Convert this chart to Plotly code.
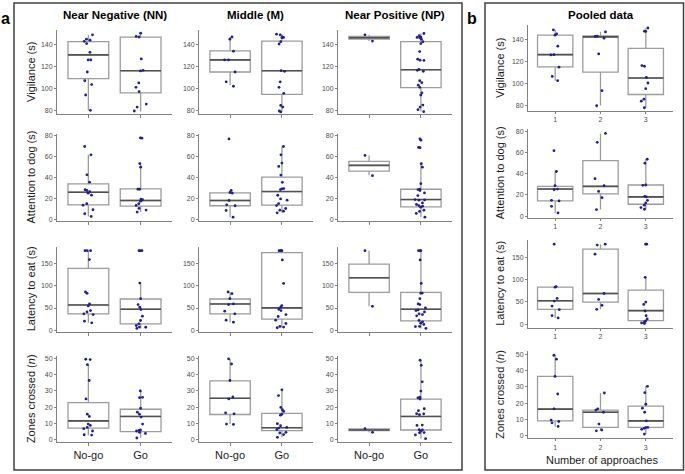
import plotly.graph_objects as go

W, H = 685, 474

condition_titles = ["Near Negative (NN)", "Middle (M)", "Near Positive (NP)", "Pooled data"]
go_labels = ["No-go", "Go"]
approach_labels = ["1", "2", "3"]
metric_titles = ["Vigilance (s)", "Attention to dog (s)", "Latency to eat (s)", "Zones crossed (<i>n</i>)"]

# vigilance (s) - individual dogs
vig_nn_nogo = [149, 143, 145, 144, 141, 133, 126, 126, 115, 107, 103.5, 94, 80]
vig_nn_go = [150.5, 147.5, 147, 127, 116.5, 116, 105, 101, 97, 85.7, 83, 79.4]
vig_m_nogo = [147, 145, 134, 126, 126, 115, 106, 102]
vig_m_go = [149.6, 149, 147, 146.6, 146.4, 142.7, 140.6, 115.6, 116.2, 106, 101, 95.5, 84.5, 83, 79.4, 78.5]
vig_np_nogo = [149, 143.3]
vig_np_go = [150.2, 148.2, 146.9, 146.6, 146.4, 145, 142.7, 141, 133.7, 126.7, 125.8, 125.6, 117.4,
             116.5, 115.6, 107, 105.3, 103, 101, 96, 93.9, 84.8, 83, 80.6, 78.8]
vig_pool_1 = [148.4, 144.8, 143.6, 133.7, 126, 125.7, 114.6, 106.3, 102.4]
vig_pool_2 = [146.6, 142.7, 142.5, 140.9, 126.6, 93.4, 79.7]
vig_pool_3 = [150.1, 147.2, 147, 116.1, 115.5, 105.4, 100.3, 95.2, 85.7, 83.9, 77.9]

# attention to dog (s)
att_nn_nogo = [69.6, 61.7, 42.7, 35.7, 27.8, 28.5, 26.6, 25.3, 23.4, 15.2, 13.9, 9.5, 5.7, 3.2]
att_nn_go = [77.8, 77.5, 53.4, 50, 29.1, 29.0, 19.6, 19, 17.7, 15.2, 13.6, 10.8, 9.2, 7.3]
att_m_nogo = [76.8, 27.8, 25.3, 25.9, 18.3, 14.2, 13.3, 8.9, 2.5]
att_m_go = [69.6, 61.7, 53.9, 50.7, 42.5, 35.6, 29.6, 29.4, 28.7, 23.3, 19.8, 18.6, 13.5, 15.4,
            10.7, 9.1, 8.2, 6.6]
att_np_nogo = [61.1, 41.9]
att_np_go = [76.9, 75.6, 68.7, 68.5, 53.2, 50, 34.3, 28.7, 27.7, 29, 25.5, 23, 19.2, 18.9, 18.6,
             16, 14.5, 13.5, 12.9, 12, 9.1, 7.9, 6, 2.5]
att_pool_1 = [61.6, 42, 28.6, 25.5, 24.9, 14.9, 14.3, 9.3, 3.1]
att_pool_2 = [77.8, 69.4, 35.2, 28.6, 23.3, 17.4, 6.2]
att_pool_3 = [53.5, 49.8, 29.3, 29, 18.7, 18.1, 14.9, 12.5, 10.3, 8.1, 6.5]

# latency to eat (s)
lat_nn_nogo = [180, 180, 180, 159.8, 83.3, 86.3, 59.3, 54.8, 44.3, 41.3, 36.8, 35.3, 20.3, 16.5]
lat_nn_go = [180, 180, 180, 106.5, 71.3, 57.8, 51.8, 46.5, 31.5, 21.8, 14.3, 10.5, 6.8, 6.5, 3.8]
lat_m_nogo = [86.3, 82.5, 71.3, 59.3, 57.8, 42.8, 36.8, 22.5, 18]
lat_m_go = [180, 180, 180, 180, 159, 105.8, 55.5, 51.8, 47.3, 44.3, 35.3, 30.8, 22.5, 15, 8.3, 6.8, 5.3]
lat_np_nogo = [180, 54]
lat_np_go = [180, 180, 180, 159, 105.8, 84, 83.5, 71.3, 57.8, 59.3, 44.3, 50.3, 45.8, 41.3, 36.8,
             35.3, 32.3, 21.8, 18.8, 15.8, 12.8, 8.3, 8.0, 3.8]
lat_pool_1 = [180, 83.2, 84.7, 58, 52, 40.9, 32.7, 19.3, 14.1]
lat_pool_2 = [180, 178, 157.5, 69.1, 55.7, 42.4, 33.4]
lat_pool_3 = [180, 180, 105.5, 49.8, 44.6, 29.7, 19.3, 11.9, 7.4, 5.2, 3, 1.5]

# zones crossed (n)
zon_nn_nogo = [49.4, 49.2, 46.1, 36.4, 25.1, 14.4, 15.8, 9.7, 8.9, 7.7, 6.9, 5.5, 3.2, 3.0]
zon_nn_go = [30, 26.1, 25.9, 19.4, 17, 15.8, 14, 9.7, 6.1, 5.9, 5.5, 4.7, 4, 1.2]
zon_m_nogo = [49.6, 46.5, 36.4, 26.3, 25.1, 16, 16.6, 9.7, 9.5]
zon_m_go = [30.7, 27.2, 19.9, 17.5, 18.5, 15.7, 15.2, 10, 8.7, 7.7, 7.3, 6.3, 4.7, 4.3, 3.3, 1.6]
zon_np_nogo = [6.9, 4.7]
zon_np_go = [48.8, 45.7, 35.6, 29.9, 26.2, 25, 25.8, 19.1, 17.9, 16.1, 15.5, 16.0, 6.3, 9.1, 8.9,
             5.3, 4.5, 4.4, 6.1, 3.1, 0.8]
zon_pool_1 = [49.4, 47, 36.4, 25.6, 16.5, 9.6, 8.7, 7.9, 5.7]
zon_pool_2 = [26.2, 16.5, 15.7, 14.4, 7.1, 3.5, 3]
zon_pool_3 = [30.3, 26.4, 19.3, 14.4, 16.9, 9.1, 5.1, 5.0, 4.5, 3.9, 1]

# box stats: (lower whisker, q1, median, q3, upper whisker)
vig_nn_box = [(80, 109, 130.7, 142.7, 149), (79, 96, 116.2, 146.9, 150.5)]
vig_m_box = [(103, 115, 126.1, 134.3, 147), (79, 94.5, 116.2, 143.3, 149.6)]
vig_np_box = [(143.3, 145.1, 146.3, 147.5, 149), (79, 100.8, 117.1, 142.7, 150.2)]
vig_pool_box = [(102.4, 114.9, 126, 143.6, 148.4), (80, 110.1, 142.1, 143, 146.6), (78, 89.9, 104.8, 131.6, 150.1)]

att_nn_box = [(3.2, 14.2, 26.2, 34.1, 61.7), (7.3, 13, 18.3, 29.4, 53.8)]
att_m_box = [(2.5, 13.3, 18.3, 25.6, 27.8), (6.6, 13.9, 26.8, 40.6, 69.6)]
att_np_box = [(42.2, 46.3, 51.7, 55.4, 61.1), (2.5, 12.3, 19.2, 29, 53.2)]
att_pool_box = [(3.1, 14.3, 25.5, 28, 42.3), (6.2, 20.9, 28, 52.3, 77.8), (6.5, 11.2, 18.1, 29.3, 53.5)]

lat_nn_box = [(16.5, 36.8, 57, 140, 180), (3.8, 14.3, 47.3, 70.5, 106.5)]
lat_m_box = [(18, 36.8, 59.3, 70.5, 86.3), (5.3, 24.8, 50.3, 175.5, 180)]
lat_np_box = [(54, 85.5, 118.5, 149.3, 180), (3.8, 21, 47.3, 85.5, 180)]
lat_pool_box = [(14.1, 33.4, 52.8, 83.2, 84.7), (33.4, 49.8, 69.1, 168.7, 180), (1.5, 8.2, 30.5, 76.5, 105.5)]

zon_nn_box = [(2.8, 7.3, 11.7, 22.9, 46.1), (1.2, 5.1, 14.4, 18.8, 30)]
zon_m_box = [(9.7, 15.6, 25.5, 36.2, 49.6), (1.6, 5.7, 7.5, 16.3, 30.7)]
zon_np_box = [(4.7, 5.7, 6.1, 6.7, 6.9), (0.8, 6.1, 14.4, 25, 48.8)]
zon_pool_box = [(5.5, 9.1, 16.3, 36.4, 49.4), (3.0, 5.1, 14.4, 15.7, 26.2), (1.0, 5.1, 9.1, 18.1, 30.3)]

points = [
    [[vig_nn_nogo, vig_nn_go], [vig_m_nogo, vig_m_go], [vig_np_nogo, vig_np_go], [vig_pool_1, vig_pool_2, vig_pool_3]],
    [[att_nn_nogo, att_nn_go], [att_m_nogo, att_m_go], [att_np_nogo, att_np_go], [att_pool_1, att_pool_2, att_pool_3]],
    [[lat_nn_nogo, lat_nn_go], [lat_m_nogo, lat_m_go], [lat_np_nogo, lat_np_go], [lat_pool_1, lat_pool_2, lat_pool_3]],
    [[zon_nn_nogo, zon_nn_go], [zon_m_nogo, zon_m_go], [zon_np_nogo, zon_np_go], [zon_pool_1, zon_pool_2, zon_pool_3]],
]
boxes = [
    [vig_nn_box, vig_m_box, vig_np_box, vig_pool_box],
    [att_nn_box, att_m_box, att_np_box, att_pool_box],
    [lat_nn_box, lat_m_box, lat_np_box, lat_pool_box],
    [zon_nn_box, zon_m_box, zon_np_box, zon_pool_box],
]

# layout geometry in pixels
cols_px = [(57, 172), (199, 313), (338, 452), (528, 673)]
rows_a_px = [(28, 113), (133, 221), (247, 332.5), (357, 444)]
rows_b_px = [(23, 110), (128, 217.4), (240, 328.3), (352.3, 440)]
ranges_a = [[76.6, 153.6], [-1.3, 81.6], [-3.6, 188.5], [-1.4, 51.4]]
ranges_b = [[74.9, 153], [-1.3, 82], [-7.4, 189.4], [-1.6, 51.8]]
dticks = [20, 20, 50, 10]

FONT = "Arial, 'Liberation Sans', sans-serif"
AXIS_COL = "#808080"
BOX_COL = "#9c9c9c"
MED_COL = "#505050"
PT_COL = "#1e1e98"
BW = 0.78

fig = go.Figure()

for r in range(4):
    for c in range(4):
        k = r * 4 + c + 1
        xr = "x" if k == 1 else f"x{k}"
        yr = "y" if k == 1 else f"y{k}"
        groups = points[r][c]
        pos = list(range(1, len(groups) + 1))
        lo, q1, med, q3, hi = [list(v) for v in zip(*boxes[r][c])]

        fig.add_trace(go.Box(x=pos, q1=q1, median=med, q3=q3, lowerfence=lo, upperfence=hi,
                             orientation="v", width=BW, whiskerwidth=0, fillcolor="white",
                             line=dict(color=BOX_COL, width=1.3), boxpoints=False,
                             hoverinfo="skip", showlegend=False, xaxis=xr, yaxis=yr))
        fig.add_trace(go.Box(x=pos, q1=med, median=med, q3=med, lowerfence=med, upperfence=med,
                             orientation="v", width=BW, whiskerwidth=0, fillcolor="rgba(0,0,0,0)",
                             line=dict(color=MED_COL, width=1.6), boxpoints=False,
                             hoverinfo="skip", showlegend=False, xaxis=xr, yaxis=yr))
        xs, ys = [], []
        for p, g in zip(pos, groups):
            xs += [p] * len(g)
            ys += g
        fig.add_trace(go.Box(x=xs, y=ys, orientation="v", width=BW, boxpoints="all", jitter=0.32,
                             pointpos=0, fillcolor="rgba(0,0,0,0)", line=dict(width=0),
                             marker=dict(color=PT_COL, size=2.8), hoverinfo="y",
                             showlegend=False, xaxis=xr, yaxis=yr))

        pooled = c == 3
        top, bot = (rows_b_px if pooled else rows_a_px)[r]
        left, right = cols_px[c]
        if pooled:
            xt = dict(tickvals=pos, ticktext=approach_labels, showticklabels=True,
                      tickfont=dict(size=7, color="#4d4d4d"), ticklen=2)
        else:
            xt = dict(tickvals=pos, ticktext=go_labels, showticklabels=(r == 3),
                      tickfont=dict(size=11, color="#1a1a1a"), ticklen=3)
        fig.update_layout(**{
            ("xaxis" if k == 1 else f"xaxis{k}"): dict(
                domain=[left / W, right / W], anchor=yr, range=[0.4, len(pos) + 0.6],
                showline=True, linecolor=AXIS_COL, linewidth=1, ticks="outside",
                tickcolor=AXIS_COL, showgrid=False, zeroline=False, fixedrange=True, **xt),
            ("yaxis" if k == 1 else f"yaxis{k}"): dict(
                domain=[1 - bot / H, 1 - top / H], anchor=xr,
                range=(ranges_b if pooled else ranges_a)[r], dtick=dticks[r],
                showline=True, linecolor=AXIS_COL, linewidth=1, ticks="outside", ticklen=2,
                tickcolor=AXIS_COL, tickfont=dict(size=7, color="#4d4d4d"),
                showgrid=False, zeroline=False, fixedrange=True),
        })

annotations = []
def label(xpx, ypx, text, size, color="#1a1a1a", angle=0):
    annotations.append(dict(xref="paper", yref="paper", x=xpx / W, y=1 - ypx / H, text=text,
                            textangle=angle, showarrow=False, font=dict(size=size, color=color),
                            xanchor="center", yanchor="middle"))

for c, title in enumerate(condition_titles):
    left, right = cols_px[c]
    label((left + right) / 2, 13, f"<b>{title}</b>", 11.5, "black")
for r, title in enumerate(metric_titles):
    for xpx, rows_px in ((31, rows_a_px), (500, rows_b_px)):
        top, bot = rows_px[r]
        label(xpx, (top + bot) / 2, title, 11, angle=-90)
label(602, 462, "Number of approaches", 11)
label(5, 17, "<b>a</b>", 16, "black")
label(472, 17, "<b>b</b>", 16, "black")

shapes = [
    dict(type="rect", xref="paper", yref="paper", x0=14 / W, x1=462 / W, y0=1 - 472 / H, y1=1 - 1 / H,
         line=dict(color="#404040", width=1.5)),
    dict(type="rect", xref="paper", yref="paper", x0=485 / W, x1=683.5 / W, y0=1 - 472 / H, y1=1 - 1 / H,
         line=dict(color="#404040", width=1.5)),
]

fig.update_layout(width=W, height=H, margin=dict(l=0, r=0, t=0, b=0), boxmode="overlay",
                  paper_bgcolor="white", plot_bgcolor="white", font=dict(family=FONT),
                  annotations=annotations, shapes=shapes, showlegend=False)

# drop the default 8px page margin so the figure sits at the window origin
fig.write_html("out.html", config={"displayModeBar": False},
               post_script="document.body.style.margin='0';")
